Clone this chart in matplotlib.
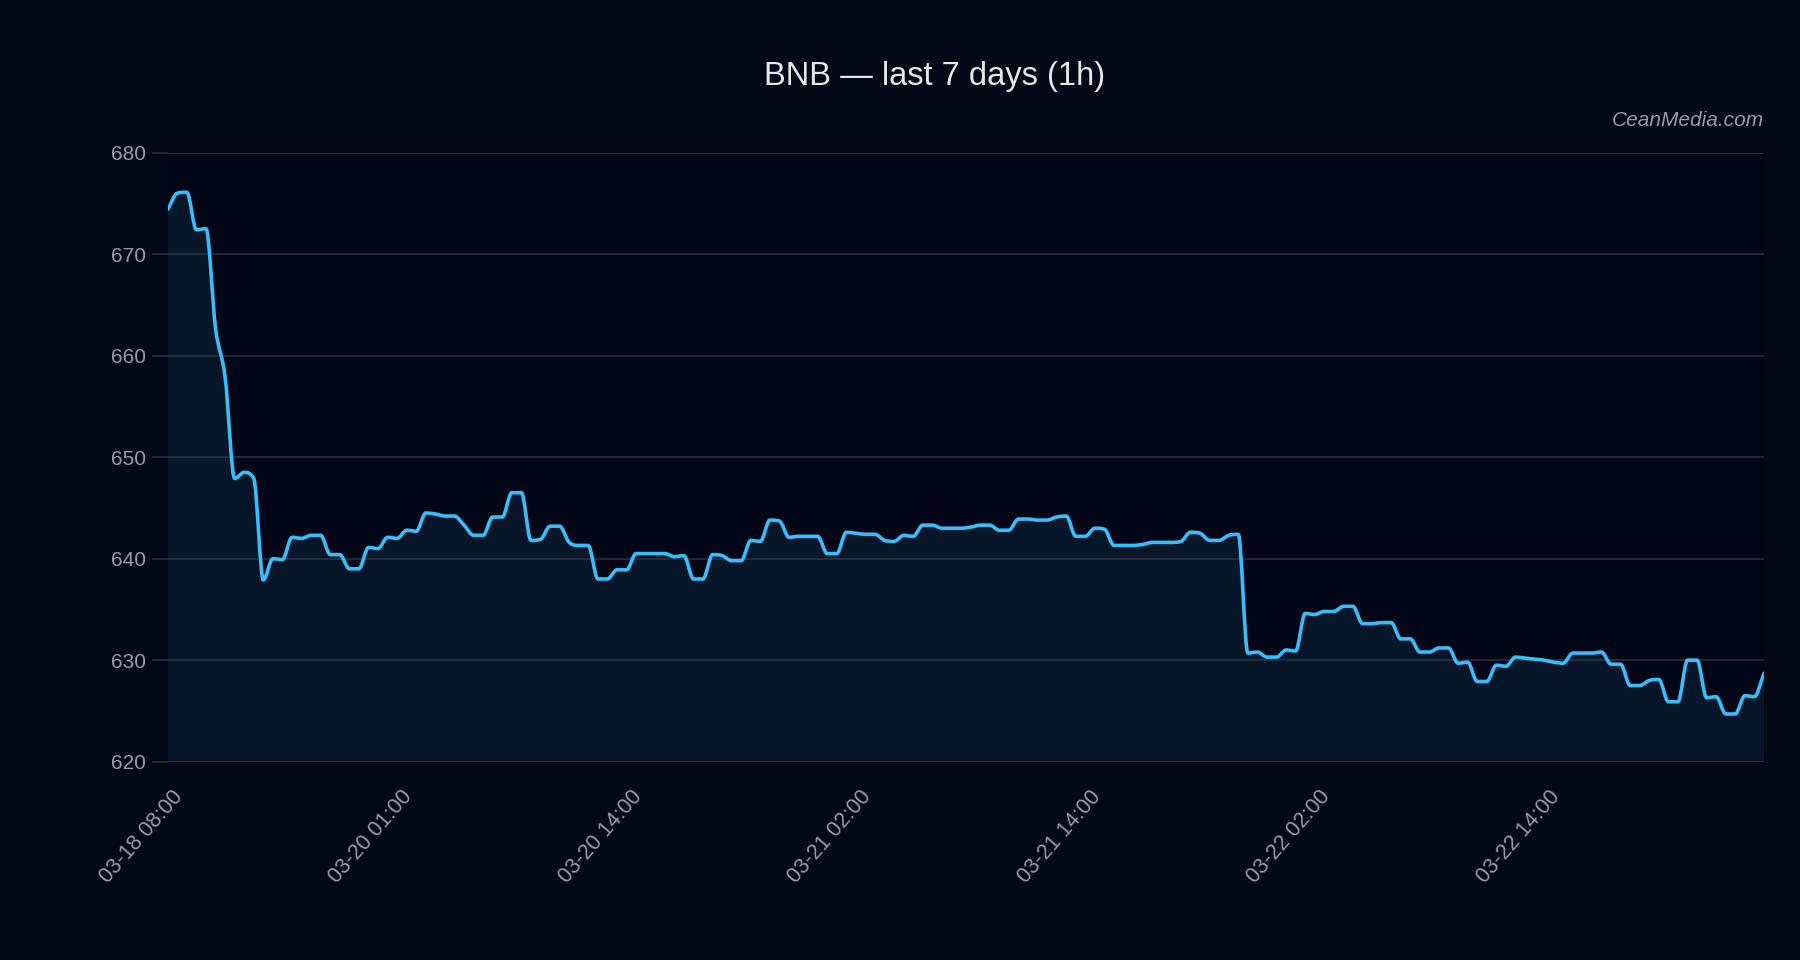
import matplotlib
matplotlib.use("Agg")
import matplotlib.pyplot as plt
from matplotlib.path import Path
from matplotlib.patches import PathPatch
from matplotlib.transforms import ScaledTranslation
import numpy as np

# ---------------- data ----------------
prices = [
    674.4, 676.0, 676.1, 672.4, 672.5, 662.7, 657.9, 647.9, 648.5, 647.9,
    637.9, 640.0, 639.9, 642.1, 642.0, 642.3, 642.3, 640.4, 640.4, 639.0,
    639.0, 641.1, 641.0, 642.1, 642.0, 642.8,
    642.7, 644.5, 644.4, 644.2, 644.2, 643.3, 642.3, 642.3, 644.1, 644.1,
    646.5, 646.5, 641.8, 641.9, 643.2, 643.2, 641.6, 641.3, 641.3, 638.0,
    638.0, 638.9, 638.9,
    640.5, 640.5, 640.5, 640.5, 640.2, 640.3, 638.0, 638.0, 640.4, 640.3,
    639.8, 639.8, 641.8, 641.7, 643.8, 643.7, 642.1, 642.2, 642.2, 642.2,
    640.5, 640.5, 642.6,
    642.5, 642.4, 642.4, 641.8, 641.7, 642.3, 642.2, 643.3, 643.3, 643.0,
    643.0, 643.0, 643.1, 643.3, 643.3, 642.8, 642.8, 643.9, 643.9, 643.8,
    643.8, 644.1, 644.2, 642.2,
    642.2, 643.0, 642.9, 641.3, 641.3, 641.3, 641.4, 641.6, 641.6, 641.6,
    641.7, 642.6, 642.5, 641.8, 641.8, 642.3, 642.4, 630.7, 630.8, 630.3,
    630.3, 631.0, 630.9,
    634.6, 634.5, 634.8, 634.8, 635.3, 635.3, 633.6, 633.6, 633.7, 633.7,
    632.1, 632.1, 630.8, 630.8, 631.2, 631.2, 629.7, 629.8, 627.9, 627.9,
    629.5, 629.4, 630.3, 630.2, 630.1,
    630.0, 629.8, 629.7, 630.7, 630.7, 630.7, 630.8, 629.6, 629.6, 627.5,
    627.5, 628.0, 628.1, 625.9, 625.9, 630.0, 630.0, 626.3, 626.4, 624.7,
    624.7, 626.5, 626.4, 628.7,
]
tick_index = [0, 24, 48, 72, 96, 120, 144]
tick_labels = ["03-18 08:00", "03-20 01:00", "03-20 14:00", "03-21 02:00",
               "03-21 14:00", "03-22 02:00", "03-22 14:00"]
y_ticks = [620, 630, 640, 650, 660, 670, 680]
title = "BNB — last 7 days (1h)"
watermark = "CeanMedia.com"

# ---------------- style ----------------
BG = "#030816"
AX_BG = "#020616"
LINE = "#38bdf8"
FILL = "#071629"
GRID = "#2a3343"
LABEL = "#939cab"
TITLE = "#e3e7ee"
FONT = ["Liberation Sans", "DejaVu Sans"]
plt.rcParams["font.family"] = FONT

fig = plt.figure(figsize=(18, 9.6), dpi=100, facecolor=BG)
ax = fig.add_axes([0.0932, 0.2066, 0.9868 - 0.0932 - 0.0068, 0.841 - 0.2066])
ax.set_facecolor(AX_BG)

x = np.arange(len(prices), dtype=float)
y = np.asarray(prices, dtype=float)


def monotone_path(xs, ys):
    n = len(xs)
    h = np.diff(xs)
    d = np.diff(ys) / h
    m = np.zeros(n)
    m[0] = d[0]
    m[-1] = d[-1]
    for k in range(1, n - 1):
        if d[k - 1] * d[k] <= 0:
            m[k] = 0.0
        else:
            m[k] = (d[k - 1] + d[k]) / 2.0
    for k in range(n - 1):
        if d[k] == 0:
            m[k] = 0.0
            m[k + 1] = 0.0
            continue
        a = m[k] / d[k]
        b = m[k + 1] / d[k]
        s = a * a + b * b
        if s > 9:
            t = 3.0 / np.sqrt(s)
            m[k] = t * a * d[k]
            m[k + 1] = t * b * d[k]
    verts = [(xs[0], ys[0])]
    codes = [Path.MOVETO]
    for k in range(n - 1):
        dx = h[k] / 3.0
        verts += [(xs[k] + dx, ys[k] + m[k] * dx),
                  (xs[k + 1] - dx, ys[k + 1] - m[k + 1] * dx),
                  (xs[k + 1], ys[k + 1])]
        codes += [Path.CURVE4] * 3
    return verts, codes


verts, codes = monotone_path(x, y)
ymin, ymax = y_ticks[0], y_ticks[-1]

fill_verts = verts + [(x[-1], ymin), (x[0], ymin), (x[0], y[0])]
fill_codes = codes + [Path.LINETO, Path.LINETO, Path.CLOSEPOLY]
ax.add_patch(PathPatch(Path(fill_verts, fill_codes), facecolor=FILL,
                       edgecolor="none", zorder=1))
ax.add_patch(PathPatch(Path(verts, codes), facecolor="none", edgecolor=LINE,
                       linewidth=2.6, capstyle="round", joinstyle="round",
                       zorder=3))

ax.set_xlim(x[0], x[-1])
ax.set_ylim(ymin, ymax)

# grid
ax.set_yticks(y_ticks)
ax.yaxis.grid(True, color=GRID, linewidth=1.1, zorder=2)
ax.xaxis.grid(False)
ax.set_axisbelow(False)
for s in ax.spines.values():
    s.set_visible(False)

ax.tick_params(axis="y", length=11.5, width=1.1, color=GRID, pad=4,
               labelsize=15, labelcolor=LABEL)
ax.set_yticklabels([str(v) for v in y_ticks])

ax.set_xticks(tick_index)
ax.set_xticklabels(tick_labels, rotation=49, ha="right", va="center",
                   rotation_mode="anchor", fontsize=15.5, color=LABEL)
ax.tick_params(axis="x", length=0, pad=23)
offset = ScaledTranslation(12 / 100, 0, fig.dpi_scale_trans)
for lab in ax.get_xticklabels():
    lab.set_transform(lab.get_transform() + offset)

fig.text(0.519, 1 - 77 / 960, title, ha="center", va="center", fontsize=23.5,
         color=TITLE)
fig.text(0.98, 1 - 121 / 960, watermark, ha="right", va="center",
         fontsize=15, color=LABEL, style="italic")

fig.savefig("out.png", dpi=100, facecolor=BG)
